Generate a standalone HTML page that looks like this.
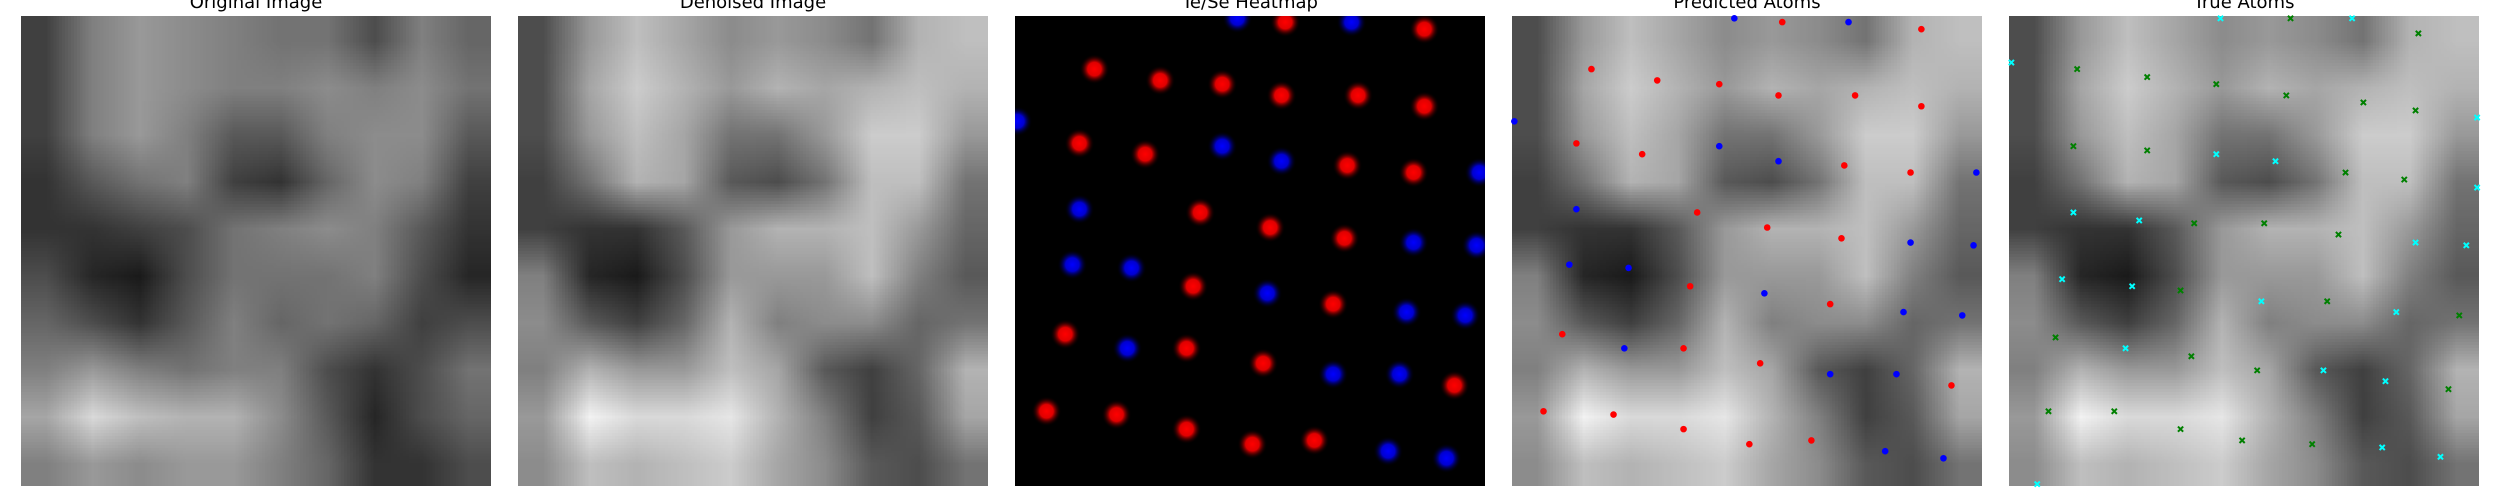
<!DOCTYPE html>
<html><head><meta charset="utf-8">
<style>
html,body{margin:0;padding:0;background:#fff;width:2500px;height:500px;overflow:hidden;}
.panel{position:absolute;top:16px;width:470px;height:470px;}
canvas.bg{position:absolute;left:0;top:0;width:470px;height:470px;image-rendering:auto;}
svg{position:absolute;left:0;top:0;}
.title{font-family:"DejaVu Sans","Liberation Sans",sans-serif;font-size:18px;fill:#000;}
</style></head>
<body>
<div class="panel" style="left:21px"><canvas class="bg" id="c1" width="10" height="10"></canvas></div>
<div class="panel" style="left:518px"><canvas class="bg" id="c2" width="10" height="10"></canvas></div>
<div class="panel" style="left:1015px;background:#000"></div>
<div class="panel" style="left:1512px"><canvas class="bg" id="c4" width="10" height="10"></canvas></div>
<div class="panel" style="left:2009px"><canvas class="bg" id="c5" width="10" height="10"></canvas></div>
<svg id="ov" width="2500" height="500" xmlns="http://www.w3.org/2000/svg">
<defs>
<radialGradient id="gRed"><stop offset="0" stop-color="#ff0000"/><stop offset="0.45" stop-color="#e00000"/><stop offset="1" stop-color="#000" stop-opacity="0"/></radialGradient>
<radialGradient id="gBlue"><stop offset="0" stop-color="#0000ff"/><stop offset="0.45" stop-color="#0000d0"/><stop offset="1" stop-color="#000" stop-opacity="0"/></radialGradient>
<clipPath id="clipH"><rect x="1015" y="16" width="470" height="470"/></clipPath>
</defs>
<text class="title" x="256" y="8" text-anchor="middle">Original Image</text>
<text class="title" x="753" y="8" text-anchor="middle">Denoised Image</text>
<text class="title" x="1250" y="8" text-anchor="middle">Te/Se Heatmap</text>
<text class="title" x="1747" y="8" text-anchor="middle">Predicted Atoms</text>
<text class="title" x="2244" y="8" text-anchor="middle">True Atoms</text>
<g id="heat" clip-path="url(#clipH)"></g>
<g id="pred"></g>
<g id="truth"></g>
</svg>
<script>
// Image data (gray levels, 10x10)
const originalGray = [
[0.25,0.5,0.6,0.55,0.5,0.45,0.45,0.3,0.5,0.4],
[0.25,0.5,0.6,0.55,0.5,0.5,0.55,0.5,0.55,0.45],
[0.25,0.5,0.6,0.5,0.35,0.35,0.5,0.55,0.55,0.35],
[0.2,0.35,0.45,0.5,0.25,0.2,0.4,0.55,0.5,0.25],
[0.2,0.2,0.25,0.3,0.45,0.5,0.55,0.5,0.35,0.2],
[0.3,0.15,0.1,0.3,0.45,0.45,0.45,0.5,0.3,0.15],
[0.4,0.3,0.2,0.35,0.5,0.4,0.45,0.4,0.25,0.3],
[0.5,0.6,0.5,0.45,0.5,0.5,0.3,0.2,0.3,0.45],
[0.65,0.85,0.75,0.7,0.7,0.55,0.35,0.15,0.3,0.4],
[0.5,0.6,0.55,0.6,0.6,0.5,0.4,0.2,0.2,0.3]];
const denoisedGray = [
[0.3,0.6,0.75,0.65,0.55,0.6,0.55,0.45,0.7,0.75],
[0.3,0.65,0.8,0.7,0.6,0.7,0.65,0.7,0.75,0.7],
[0.3,0.6,0.75,0.65,0.45,0.45,0.6,0.8,0.8,0.6],
[0.25,0.45,0.7,0.65,0.35,0.3,0.45,0.75,0.75,0.45],
[0.25,0.2,0.2,0.35,0.6,0.7,0.7,0.75,0.6,0.4],
[0.5,0.15,0.1,0.3,0.6,0.6,0.6,0.75,0.5,0.35],
[0.55,0.35,0.25,0.4,0.7,0.5,0.55,0.55,0.4,0.45],
[0.5,0.7,0.6,0.6,0.75,0.65,0.35,0.25,0.4,0.7],
[0.6,0.95,0.85,0.85,0.9,0.7,0.5,0.25,0.35,0.65],
[0.55,0.75,0.7,0.75,0.8,0.65,0.55,0.35,0.3,0.45]];
// Atom positions in image units (0-100)
const predTeX = [57.5,87.1,16.9,30.9,44.1,56.7,73.0,87.1,13.7,27.7,70.7,84.8,39.4,54.3,70.1,37.9,67.7,10.7,36.5,52.8,93.5,6.7,21.6,36.5,50.5,63.7];
const predTeY = [1.3,2.8,11.3,13.7,14.5,16.9,16.9,19.2,27.1,29.4,31.8,33.3,41.8,45.0,47.3,57.5,61.3,67.7,70.7,73.9,78.6,84.1,84.8,87.9,91.1,90.3];
const predSeX = [47.3,71.6,0.5,44.1,56.7,98.8,13.7,84.8,98.2,12.2,24.8,53.7,83.3,95.8,23.9,67.7,81.8,79.4,91.8];
const predSeY = [0.5,1.3,22.4,27.7,30.9,33.3,41.1,48.2,48.8,52.9,53.6,59.0,63.0,63.7,70.7,76.2,76.2,92.6,94.1];
const trueTeX = [59.9,87.1,14.5,29.4,44.1,59.0,75.4,86.5,13.7,29.4,71.6,84.1,39.4,54.3,70.1,36.5,67.7,95.8,9.9,38.8,52.8,93.5,8.4,22.4,36.5,49.6,64.5];
const trueTeY = [0.5,3.7,11.3,13.0,14.5,16.9,18.4,20.1,27.7,28.6,33.3,34.8,44.1,44.1,46.5,58.4,60.7,63.7,68.4,72.4,75.4,79.4,84.1,84.1,87.9,90.3,91.1];
const trueSeX = [45.0,73.0,0.5,99.6,44.1,56.7,99.6,13.7,27.7,86.5,97.3,11.3,26.2,53.7,82.4,24.8,66.9,80.1,79.4,91.8,6.0];
const trueSeY = [0.5,0.5,9.9,21.6,29.4,30.9,36.5,41.8,43.5,48.2,48.8,56.0,57.5,60.7,63.0,70.7,75.4,77.7,91.8,93.8,99.6];

const PANEL_Y = 16, PANEL_S = 470;
function sx(panelLeft, v){ return panelLeft + v/100*PANEL_S; }
function sy(v){ return PANEL_Y + v/100*PANEL_S; }

function paint(id, grid){
  const c = document.getElementById(id), ctx = c.getContext('2d');
  const img = ctx.createImageData(10,10);
  for(let r=0;r<10;r++) for(let k=0;k<10;k++){
    const g = Math.round(grid[r][k]*255), i=(r*10+k)*4;
    img.data[i]=g; img.data[i+1]=g; img.data[i+2]=g; img.data[i+3]=255;
  }
  ctx.putImageData(img,0,0);
}
paint('c1', originalGray);
paint('c2', denoisedGray);
paint('c4', denoisedGray);
paint('c5', denoisedGray);

const NS = 'http://www.w3.org/2000/svg';
const heat = document.getElementById('heat');
function blobs(xs, ys, grad, name){
  for(let i=0;i<xs.length;i++){
    const c = document.createElementNS(NS,'circle');
    c.setAttribute('cx', sx(1015, xs[i])); c.setAttribute('cy', sy(ys[i]));
    c.setAttribute('r', 15); c.setAttribute('fill', 'url(#'+grad+')');
    
    
    heat.appendChild(c);
  }
}
blobs(predTeX, predTeY, 'gRed', 'heatmap-te-blob');
blobs(predSeX, predSeY, 'gBlue', 'heatmap-se-blob');

const pred = document.getElementById('pred');
function dots(xs, ys, color, name){
  for(let i=0;i<xs.length;i++){
    const c = document.createElementNS(NS,'circle');
    c.setAttribute('cx', sx(1512, xs[i])); c.setAttribute('cy', sy(ys[i]));
    c.setAttribute('r', 3.3); c.setAttribute('fill', color);
    
    
    pred.appendChild(c);
  }
}
dots(predTeX, predTeY, '#ff0000', 'predicted-te-atom');
dots(predSeX, predSeY, '#0000ff', 'predicted-se-atom');

const truth = document.getElementById('truth');
function crosses(xs, ys, color, name){
  for(let i=0;i<xs.length;i++){
    const x = sx(2009, xs[i]), y = sy(ys[i]), d = 2.6;
    const p = document.createElementNS(NS,'path');
    p.setAttribute('d', `M${x-d},${y-d}L${x+d},${y+d}M${x-d},${y+d}L${x+d},${y-d}`);
    p.setAttribute('stroke', color); p.setAttribute('stroke-width', 2);
    
    
    truth.appendChild(p);
  }
}
crosses(trueTeX, trueTeY, '#008000', 'true-te-atom');
crosses(trueSeX, trueSeY, '#00ffff', 'true-se-atom');
</script>
</body></html>
